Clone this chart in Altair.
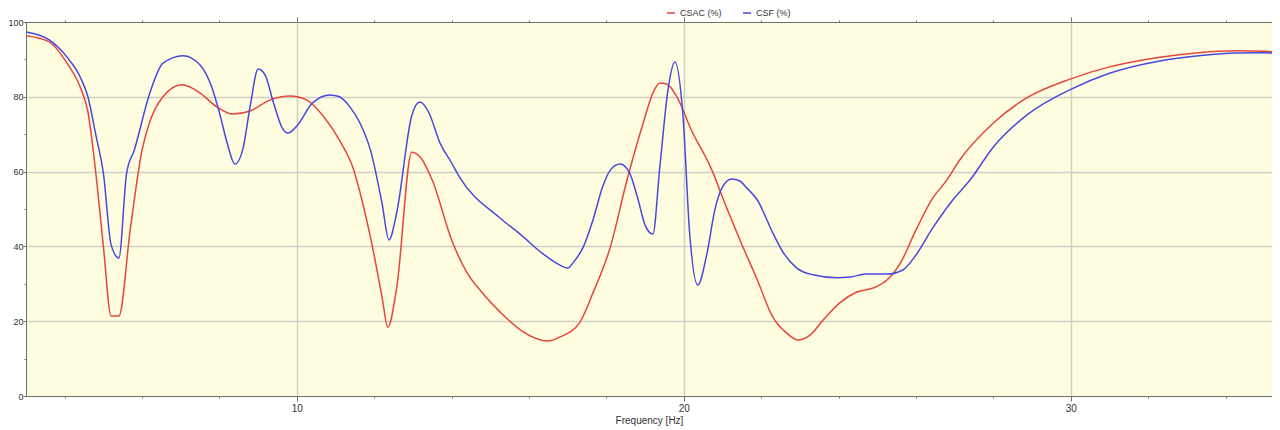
import altair as alt
import pandas as pd

# CSAC (%) series
csac_freq = [3.0, 3.6, 4.06, 4.4, 4.6, 4.8, 5.0, 5.2, 5.4, 5.7, 6.0, 6.2, 6.54, 7.03, 7.5, 7.93,
             8.35, 8.79, 9.3, 9.82, 10.26, 10.7, 11.1, 11.45, 11.7, 11.97, 12.2, 12.35, 12.58,
             12.97, 13.18, 13.5, 14.0, 14.4, 14.8, 15.25, 15.8, 16.5, 16.8, 17.3, 17.65, 18.1,
             18.53, 18.95, 19.2, 19.38, 19.56, 19.82, 20.2, 20.7, 21.1, 21.45, 21.9, 22.3, 22.66,
             22.95, 23.26, 23.6, 24.03, 24.47, 24.9, 25.25, 25.6, 26.0, 26.4, 26.8, 27.13, 28.0,
             28.86, 30.0, 31.0, 32.3, 33.3, 34.3, 35.0, 35.4]
csac_val = [96.3, 94.7, 89.0, 82.6, 76.0, 60.0, 40.0, 21.4, 21.4, 45.0, 65.8, 73.3, 80.0, 83.2,
            81.0, 77.3, 75.4, 76.2, 79.1, 80.2, 79.1, 74.6, 68.4, 61.0, 51.6, 39.0, 26.5, 18.4,
            29.0, 65.2, 64.0, 57.7, 41.7, 32.9, 27.5, 22.5, 17.5, 14.7, 15.8, 19.5, 27.5, 39.8,
            57.7, 73.0, 81.0, 83.7, 83.4, 80.0, 71.0, 61.0, 50.5, 41.7, 31.0, 21.1, 16.8, 15.0,
            16.3, 20.3, 24.9, 27.8, 28.9, 31.0, 35.6, 44.4, 52.4, 57.8, 63.1, 73.0, 79.7, 84.8,
            88.0, 90.6, 91.8, 92.3, 92.2, 91.7]

# CSF (%) series
csf_freq = [3.0, 3.6, 4.06, 4.4, 4.6, 4.8, 5.0, 5.2, 5.4, 5.6, 5.8, 6.2, 6.54, 7.06, 7.5, 7.8,
            8.0, 8.2, 8.4, 8.6, 8.79, 9.0, 9.18, 9.39, 9.62, 9.77, 10.0, 10.4, 10.86, 11.1, 11.37,
            11.63, 11.9, 12.2, 12.38, 12.58, 12.97, 13.18, 13.4, 13.7, 14.0, 14.2, 15.25, 15.8,
            16.3, 16.8, 17.0, 17.15, 17.4, 17.65, 17.9, 18.1, 18.35, 18.6, 18.8, 19.0, 19.2,
            19.38, 19.6, 19.77, 19.98, 20.15, 20.36, 20.6, 20.8, 21.0, 21.24, 21.45, 21.6, 21.9,
            22.3, 22.56, 22.92, 23.34, 23.95, 24.3, 24.7, 25.25, 25.66, 26.0, 26.4, 26.95, 27.4,
            28.0, 28.86, 30.0, 31.0, 32.3, 33.3, 34.3, 35.0, 35.4]
csf_val = [97.3, 95.2, 90.6, 85.3, 80.0, 70.0, 59.6, 40.4, 36.9, 59.6, 65.8, 81.0, 89.0, 91.0,
           88.5, 82.6, 75.7, 67.6, 62.0, 65.8, 77.3, 87.4, 85.8, 78.6, 71.7, 70.3, 72.2, 78.3,
           80.5, 80.0, 77.3, 73.0, 65.8, 51.6, 41.7, 49.0, 75.0, 78.6, 76.0, 67.6, 62.3, 58.6,
           47.6, 43.0, 38.5, 35.0, 34.2, 35.8, 39.8, 47.0, 55.9, 60.4, 62.0, 59.6, 53.2, 45.7,
           43.3, 61.2, 82.6, 89.3, 74.6, 43.6, 29.7, 38.2, 49.7, 55.9, 58.0, 57.5, 55.9, 52.4,
           43.6, 38.5, 34.2, 32.4, 31.6, 31.8, 32.6, 32.6, 33.7, 37.7, 44.4, 52.4, 57.8, 66.6,
           75.1, 82.0, 86.3, 89.6, 91.0, 91.7, 91.8, 91.6]

series_names = ["CSAC (%)", "CSF (%)"]
series_colors = ["#e8453c", "#4848e0"]
x_tick_values = list(range(4, 36, 2))
y_tick_values = list(range(0, 101, 10))

df = pd.concat([
    pd.DataFrame({"freq": csac_freq, "value": csac_val, "series": series_names[0], "order": range(len(csac_freq))}),
    pd.DataFrame({"freq": csf_freq, "value": csf_val, "series": series_names[1], "order": range(len(csf_freq))}),
])

FONT = "Liberation Sans"
TXT = "#333333"
FRAME = "#707064"
GRID = "#cfcfc4"

x_scale = alt.Scale(domain=[3.0, 35.2], nice=False, zero=False)
y_scale = alt.Scale(domain=[0, 100], nice=False)

x_axis = alt.Axis(
    values=x_tick_values,
    labelExpr="datum.value % 10 === 0 ? datum.label : ''",
    title="Frequency [Hz]",
    grid=True,
    gridColor=GRID,
    gridWidth=1.5,
    gridOpacity={"condition": {"test": "datum.value % 10 === 0", "value": 1}, "value": 0},
    tickSize={"condition": {"test": "datum.value % 10 === 0", "value": 5}, "value": 2},
    tickColor=FRAME,
    domainColor=FRAME,
    labelFont=FONT, labelFontSize=10, labelColor=TXT, labelPadding=2,
    titleFont=FONT, titleFontSize=10, titleColor=TXT, titleFontWeight="normal", titlePadding=2,
)
y_axis = alt.Axis(
    values=y_tick_values,
    labelExpr="datum.value % 20 === 0 ? datum.label : ''",
    title=None,
    grid=True,
    gridColor=GRID,
    gridWidth=1.5,
    gridOpacity={"condition": {"test": "datum.value % 20 === 0 && datum.value > 0 && datum.value < 100", "value": 1}, "value": 0},
    tickSize={"condition": {"test": "datum.value % 20 === 0", "value": 3}, "value": 2},
    tickColor=FRAME,
    domainColor=FRAME,
    labelFont=FONT, labelFontSize=9, labelColor=TXT, labelPadding=0,
)

lines = alt.Chart(df).mark_line(strokeWidth=1.5, interpolate="monotone", clip=True).encode(
    x=alt.X("freq:Q", scale=x_scale, axis=x_axis),
    y=alt.Y("value:Q", scale=y_scale, axis=y_axis),
    color=alt.Color(
        "series:N",
        scale=alt.Scale(domain=series_names, range=series_colors),
        legend=alt.Legend(
            title=None, orient="none", direction="horizontal", legendX=640, legendY=-14,
            symbolType="stroke", symbolSize=64, symbolStrokeWidth=1.5,
            labelFont=FONT, labelFontSize=9, labelColor=TXT, labelOffset=4, columnPadding=18,
        ),
    ),
    detail="series:N",
    order="order:Q",
)

frame_axes = alt.Chart(df).mark_line(opacity=0, clip=True).encode(
    x=alt.X("freq:Q", scale=x_scale, axis=alt.Axis(
        orient="top", values=x_tick_values, labels=False, title=None, grid=False, domain=False,
        tickColor=FRAME,
        tickSize={"condition": {"test": "datum.value % 10 === 0", "value": 5}, "value": 2})),
    y=alt.Y("value:Q", scale=y_scale, axis=alt.Axis(
        orient="right", values=y_tick_values, labels=False, title=None, grid=False, domain=False,
        tickColor=FRAME,
        tickSize={"condition": {"test": "datum.value % 20 === 0", "value": 4}, "value": 2})),
    detail="series:N",
)

chart = alt.layer(lines, frame_axes).resolve_axis(x="independent", y="independent").properties(
    width=1246,
    height=374,
    autosize=alt.AutoSizeParams(type="none"),
    padding={"left": 18, "top": 14, "right": 0, "bottom": 34},
    background="white",
).configure_view(fill="#fffde0", stroke=FRAME, strokeWidth=1)

chart.save("out.html", embed_options={"renderer": "svg", "actions": False})
